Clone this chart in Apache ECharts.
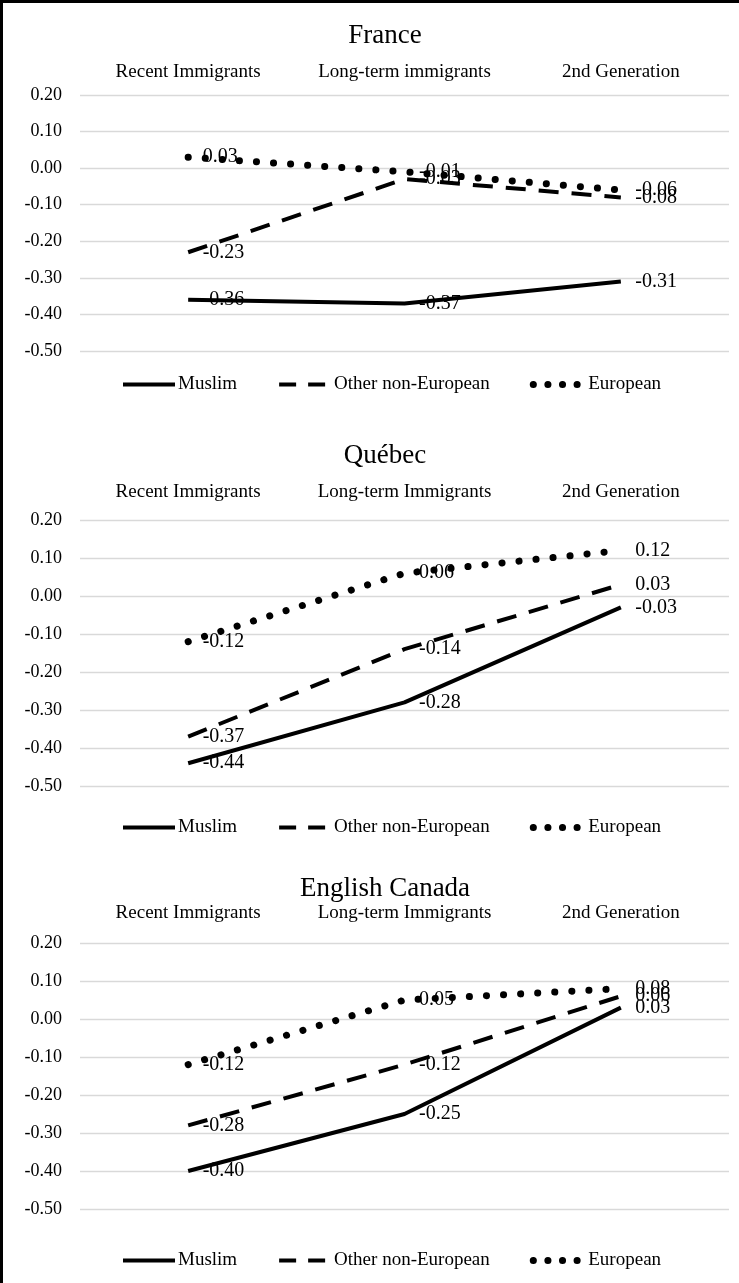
<!DOCTYPE html>
<html>
<head>
<meta charset="utf-8">
<script src="https://cdn.jsdelivr.net/npm/echarts@6/dist/echarts.min.js"></script>
<style>
html, body { margin: 0; padding: 0; background: #fff; }
#chart-content { position: absolute; left: 0; top: 0; width: 739px; height: 1283px; }
#frame { position: absolute; left: 0; top: 0; width: 739px; height: 1283px; box-sizing: border-box;
  border-left: 3px solid #000; border-top: 3px solid #000; pointer-events: none; }
</style>
</head>
<body>
<div id="chart-content"></div>
<div id="frame"></div>
<script>
// categories (top axis)
const franceCategories = ['Recent Immigrants', 'Long-term immigrants', '2nd Generation'];
const canadaCategories = ['Recent Immigrants', 'Long-term Immigrants', '2nd Generation'];
const seriesNames = ['Muslim', 'Other non-European', 'European'];

// France
const franceMuslim = [-0.36, -0.37, -0.31];
const franceOther = [-0.23, -0.03, -0.08];
const franceEuropean = [0.03, -0.01, -0.06];

// Québec
const quebecMuslim = [-0.44, -0.28, -0.03];
const quebecOther = [-0.37, -0.14, 0.03];
const quebecEuropean = [-0.12, 0.06, 0.12];

// English Canada
const canadaMuslim = [-0.40, -0.25, 0.03];
const canadaOther = [-0.28, -0.12, 0.06];
const canadaEuropean = [-0.12, 0.05, 0.08];

const yMin = -0.5, yMax = 0.2, yStep = 0.1;

const panels = [
  { title: 'France', cats: franceCategories, data: [franceMuslim, franceOther, franceEuropean],
    titleY: 17, top: 95, height: 256, labelMargin: 13, legendY: 370 },
  { title: 'Québec', cats: canadaCategories, data: [quebecMuslim, quebecOther, quebecEuropean],
    titleY: 437, top: 520, height: 266, labelMargin: 18, legendY: 813 },
  { title: 'English Canada', cats: canadaCategories, data: [canadaMuslim, canadaOther, canadaEuropean],
    titleY: 870, top: 943, height: 266, labelMargin: 20, legendY: 1246 }
];

const font = '"Liberation Serif", "Times New Roman", serif';
const lineStyles = [
  { color: '#000', width: 4, type: 'solid' },
  { color: '#000', width: 4, type: [20, 13] },
  { color: '#000', width: 7, type: [0.1, 17], cap: 'round' }
];
// legend icons use a shorter pattern so a few dashes / dots fit
const legendLines = [
  { color: '#000', width: 4, type: 'solid' },
  { color: '#000', width: 4, type: [17, 12] },
  { color: '#000', width: 7, type: [0.1, 14.5], cap: 'round' }
];

const chart = echarts.init(document.getElementById('chart-content'));
let option = {
  backgroundColor: '#fff',
  animation: false,
  title: [], grid: [], xAxis: [], yAxis: [], legend: [], series: []
};

panels.forEach((p, i) => {
  option.title.push({
    text: p.title, left: 380, top: p.titleY, textAlign: 'center',
    textStyle: { fontFamily: font, fontSize: 27, fontWeight: 'normal', color: '#000' }
  });
  option.grid.push({ left: 80, right: 10, top: p.top, height: p.height });
  option.xAxis.push({
    type: 'category', gridIndex: i, position: 'top', data: p.cats, boundaryGap: true,
    axisLine: { show: false }, axisTick: { show: false }, splitLine: { show: false },
    axisLabel: { interval: 0, fontFamily: font, fontSize: 19, color: '#000', margin: p.labelMargin }
  });
  option.yAxis.push({
    type: 'value', gridIndex: i, min: yMin, max: yMax, interval: yStep,
    axisLine: { show: false }, axisTick: { show: false },
    splitLine: { lineStyle: { color: '#d9d9d9', width: 1.3 } },
    axisLabel: {
      fontFamily: font, fontSize: 18, color: '#000', margin: 18,
      formatter: v => (Math.abs(v) < 1e-9 ? 0 : v).toFixed(2)
    }
  });
  option.legend.push({
    top: p.legendY, left: 116, itemWidth: 52, itemHeight: 14, itemGap: 40,
    data: seriesNames.map((n, k) => ({ name: n, lineStyle: legendLines[k] })),
    itemStyle: { color: 'rgba(0,0,0,0)', borderWidth: 0, opacity: 0 },
    textStyle: { fontFamily: font, fontSize: 19, color: '#000', padding: [0, 0, 0, -2] }
  });
  p.data.forEach((vals, k) => {
    option.series.push({
      name: seriesNames[k], type: 'line', xAxisIndex: i, yAxisIndex: i,
      data: vals, symbol: 'circle', symbolSize: 1, showSymbol: true,
      itemStyle: { color: 'rgba(0,0,0,0)' },
      lineStyle: lineStyles[k],
      emphasis: { disabled: true },
      label: {
        show: true, position: 'right', distance: 14,
        fontFamily: font, fontSize: 20, color: '#000',
        formatter: d => d.value.toFixed(2)
      }
    });
  });
});

chart.setOption(option);
</script>
</body>
</html>
